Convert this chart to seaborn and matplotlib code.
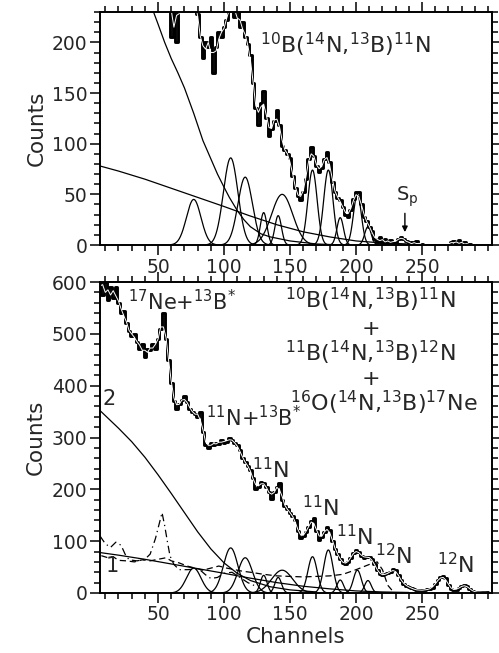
import numpy as np
import pandas as pd
import seaborn as sns
import matplotlib.pyplot as plt
from matplotlib.ticker import MultipleLocator, FixedLocator

# ---- data ----
# spectrum channels (every 2 channels, 6 .. 300)
channels = np.arange(6, 302, 2)

# top panel: 10B(14N,13B)11N  (values > 230 are off scale)
counts_top = [
    260, 262, 258, 265, 260, 258, 262, 260, 255, 262,   # 6-24
    258, 260, 262, 258, 260, 255, 262, 258, 260, 258,   # 26-44
    260, 258, 262, 255, 262, 258, 250, 205, 240, 200,   # 46-64
    240, 245, 245, 245, 245, 245, 245, 228, 205, 185,   # 66-84
    200, 195, 205, 170, 195, 210, 205, 215, 222, 235,   # 86-104
    240, 225, 232, 215, 220, 205, 198, 188, 160, 135,   # 106-124
    118, 140, 152, 125, 108, 115, 122, 133, 118, 98,    # 126-144
    94, 90, 86, 68, 56, 48, 44, 52, 65, 85,             # 146-164
    97, 88, 78, 72, 76, 85, 92, 82, 62, 52,             # 166-184
    46, 44, 38, 30, 28, 35, 45, 52, 52, 40,             # 186-204
    28, 24, 18, 14, 6, 3, 8, 2, 6, 1,                   # 206-224
    5, 2, 3, 6, 8, 6, 4, 1, 3, 0,                       # 226-244
    4, 0, 1, 0, 0, 0, 0, 0, 0, 0,                       # 246-264
    0, 0, 0, 3, 4, 0, 5, 0, 3, 0,                       # 266-284
    1, 0, 0, 0, 0, 0, 0, 0,                             # 286-300
]

# bottom panel: sum of the three reactions
counts_bot = [
    610, 575, 600, 565, 590, 570, 590, 560, 540, 545,   # 6-24
    520, 505, 495, 500, 485, 470, 480, 455, 470, 468,   # 26-44
    480, 470, 490, 510, 540, 490, 450, 405, 370, 355,   # 46-64
    365, 372, 380, 368, 355, 350, 345, 340, 350, 310,   # 66-84
    285, 280, 290, 285, 290, 288, 295, 290, 292, 300,   # 86-104
    295, 290, 285, 275, 260, 252, 245, 238, 222, 200,   # 106-124
    205, 215, 212, 205, 195, 182, 195, 205, 212, 180,   # 126-144
    167, 162, 155, 148, 140, 120, 106, 110, 118, 128,   # 146-164
    138, 145, 120, 102, 108, 118, 128, 122, 100, 85,    # 166-184
    75, 65, 58, 55, 60, 68, 78, 82, 80, 72,             # 186-204
    67, 70, 70, 65, 55, 45, 36, 34, 36, 38,             # 206-224
    40, 46, 44, 34, 25, 18, 14, 12, 9, 7,               # 226-244
    6, 5, 6, 5, 7, 8, 10, 18, 25, 30,                   # 246-264
    32, 28, 15, 8, 6, 6, 10, 13, 15, 14,                # 266-284
    8, 4, 2, 2, 1, 2, 1, 1,                             # 286-300
]

# fitted peaks: centre (channel), height (counts), width (channels)
peak_centre = [77, 105, 116, 130, 141, 144, 167, 179, 188, 201, 209]
peak_height_top = [45, 86, 67, 32, 29, 50, 74, 74, 27, 50, 18]
peak_height_bot = [48, 87, 68, 34, 30, 44, 70, 83, 25, 44, 24]
peak_width = [5.5, 5.5, 5.5, 2.5, 2.5, 8, 3.5, 3.5, 2.5, 3, 2.5]

# backgrounds
bg_steep_ch = [46, 50, 55, 60, 65, 70, 77, 84, 90, 95, 100, 104, 110, 115, 120, 128, 135, 150, 170, 190]
bg_steep_val = [232, 218, 200, 184, 170, 155, 130, 103, 85, 70, 57, 47, 34, 25, 18, 11, 8, 4, 1, 0]
bg_slow_ch = [6, 20, 40, 60, 80, 100, 119, 140, 160, 180, 200, 220, 240]
bg_slow_val = [78, 73, 65, 56, 47, 38, 29, 20, 13, 8, 4, 2, 1]
bg2_ch = [6, 20, 30, 40, 50, 60, 70, 80, 90, 100, 110, 120, 135, 150, 170]
bg2_val = [352, 318, 292, 262, 228, 192, 155, 118, 85, 58, 38, 24, 12, 6, 2]
dash_ch = [7, 12, 16, 20, 26, 32, 38, 44, 50, 56, 60, 66, 72, 78, 84, 90, 96, 102, 108, 114,
           120, 130, 140, 150, 160, 170, 180, 190, 200, 210, 216, 220, 224, 228]
dash_val = [72, 68, 70, 63, 62, 60, 64, 62, 65, 68, 62, 58, 52, 48, 44, 48, 52, 48, 45, 42,
            40, 36, 33, 32, 31, 32, 33, 36, 45, 55, 60, 45, 15, 3]
dd_ch = [6, 10, 14, 18, 22, 25, 28, 34, 40, 44, 48, 51, 53, 55, 57, 59, 62, 66, 72, 78,
         82, 86, 90, 95, 100, 106, 112, 118, 125]
dd_val = [110, 95, 88, 98, 92, 75, 64, 62, 65, 75, 105, 135, 155, 130, 100, 72, 55, 45, 45, 46,
          44, 35, 28, 30, 38, 40, 30, 20, 12]

x_major = [50, 100, 150, 200, 250]

sns.set_theme(style='ticks')
plt.rcParams['font.family'] = ['DejaVu Sans']
plt.rcParams['mathtext.default'] = 'regular'

fig = plt.figure(figsize=(4.99, 6.53), dpi=100)
ax1 = fig.add_axes([0.2004, 0.6248, 0.7856, 0.3568])
ax2 = fig.add_axes([0.2004, 0.0919, 0.7856, 0.4762])

grid = np.linspace(5, 303, 1200)


def draw_peaks(ax, heights):
    for c, h, w in zip(peak_centre, heights, peak_width):
        y = h * np.exp(-0.5 * ((grid - c) / w) ** 2)
        m = y > 0.3
        sns.lineplot(x=grid[m], y=y[m], ax=ax, color='black', lw=0.9)


def draw_data(ax, counts):
    df = pd.DataFrame({'ch': channels, 'n': counts})
    sns.lineplot(data=df, x='ch', y='n', ax=ax, color='black', lw=2.1,
                 drawstyle='steps-mid')
    fit = df['n'].rolling(3, center=True, min_periods=1).mean()
    sns.lineplot(x=df['ch'], y=fit, ax=ax, color='white', lw=0.7)


# ---- top panel ----
draw_peaks(ax1, peak_height_top)
sns.lineplot(x=bg_steep_ch, y=bg_steep_val, ax=ax1, color='black', lw=0.9)
sns.lineplot(x=bg_slow_ch, y=bg_slow_val, ax=ax1, color='black', lw=0.9)
draw_data(ax1, counts_top)
ax1.set_ylim(0, 230)
ax1.yaxis.set_major_locator(MultipleLocator(50))
ax1.yaxis.set_minor_locator(MultipleLocator(10))
ax1.text(192, 198, r'$^{10}$B($^{14}$N,$^{13}$B)$^{11}$N', fontsize=16, ha='center', va='center')
ax1.annotate('', xy=(237, 10), xytext=(237, 34),
             arrowprops=dict(arrowstyle='-|>', color='black', lw=1, mutation_scale=8))
ax1.text(239, 36, r'S$_{p}$', fontsize=14, ha='center', va='bottom')

# ---- bottom panel ----
draw_peaks(ax2, peak_height_bot)
sns.lineplot(x=bg2_ch, y=bg2_val, ax=ax2, color='black', lw=0.9)
sns.lineplot(x=bg_slow_ch, y=bg_slow_val, ax=ax2, color='black', lw=0.9)
sns.lineplot(x=dash_ch, y=dash_val, ax=ax2, color='black', lw=0.9, linestyle=(0, (5, 3)))
sns.lineplot(x=dd_ch, y=dd_val, ax=ax2, color='black', lw=0.9, linestyle=(0, (6, 3, 1, 3)))
draw_data(ax2, counts_bot)
ax2.set_ylim(0, 600)
ax2.yaxis.set_major_locator(MultipleLocator(100))
ax2.yaxis.set_minor_locator(MultipleLocator(20))
ax2.text(8, 355, '2', fontsize=15, ha='left', va='bottom')
ax2.text(10, 32, '1', fontsize=15, ha='left', va='bottom')
ax2.text(27, 563, r'$^{17}$Ne+$^{13}$B$^{*}$', fontsize=15, ha='left', va='center')
ax2.text(86, 338, r'$^{11}$N+$^{13}$B$^{*}$', fontsize=15, ha='left', va='center')
ax2.text(211, 565, r'$^{10}$B($^{14}$N,$^{13}$B)$^{11}$N', fontsize=16, ha='center', va='center')
ax2.text(211, 510, '+', fontsize=16, ha='center', va='center')
ax2.text(211, 464, r'$^{11}$B($^{14}$N,$^{13}$B)$^{12}$N', fontsize=16, ha='center', va='center')
ax2.text(211, 413, '+', fontsize=16, ha='center', va='center')
ax2.text(221, 367, r'$^{16}$O($^{14}$N,$^{13}$B)$^{17}$Ne', fontsize=16, ha='center', va='center')
for x, y, s in [(135, 238, '11'), (173, 164, '11'), (199, 108, '11'), (228, 73, '12'), (275, 54, '12')]:
    ax2.text(x, y, r'$^{%s}$N' % s, fontsize=16, ha='center', va='center')

ax2.set_xlabel('Channels', fontsize=15.5, labelpad=2)
ax1.set_xlabel('')

for ax in (ax1, ax2):
    ax.set_xlim(6, 303)
    ax.xaxis.set_major_locator(FixedLocator(x_major))
    ax.xaxis.set_minor_locator(MultipleLocator(10))
    ax.set_ylabel('Counts', fontsize=15.5, labelpad=4)
    ax.tick_params(which='both', direction='out', top=True, right=True,
                   labelsize=13.5, color='black', width=1.1, pad=2)
    ax.tick_params(which='major', length=7)
    ax.tick_params(which='minor', length=4)
    for s in ax.spines.values():
        s.set_linewidth(1.4)
        s.set_color('black')
    ax.set_facecolor('white')

fig.savefig('out.png', dpi=100, facecolor='white')
